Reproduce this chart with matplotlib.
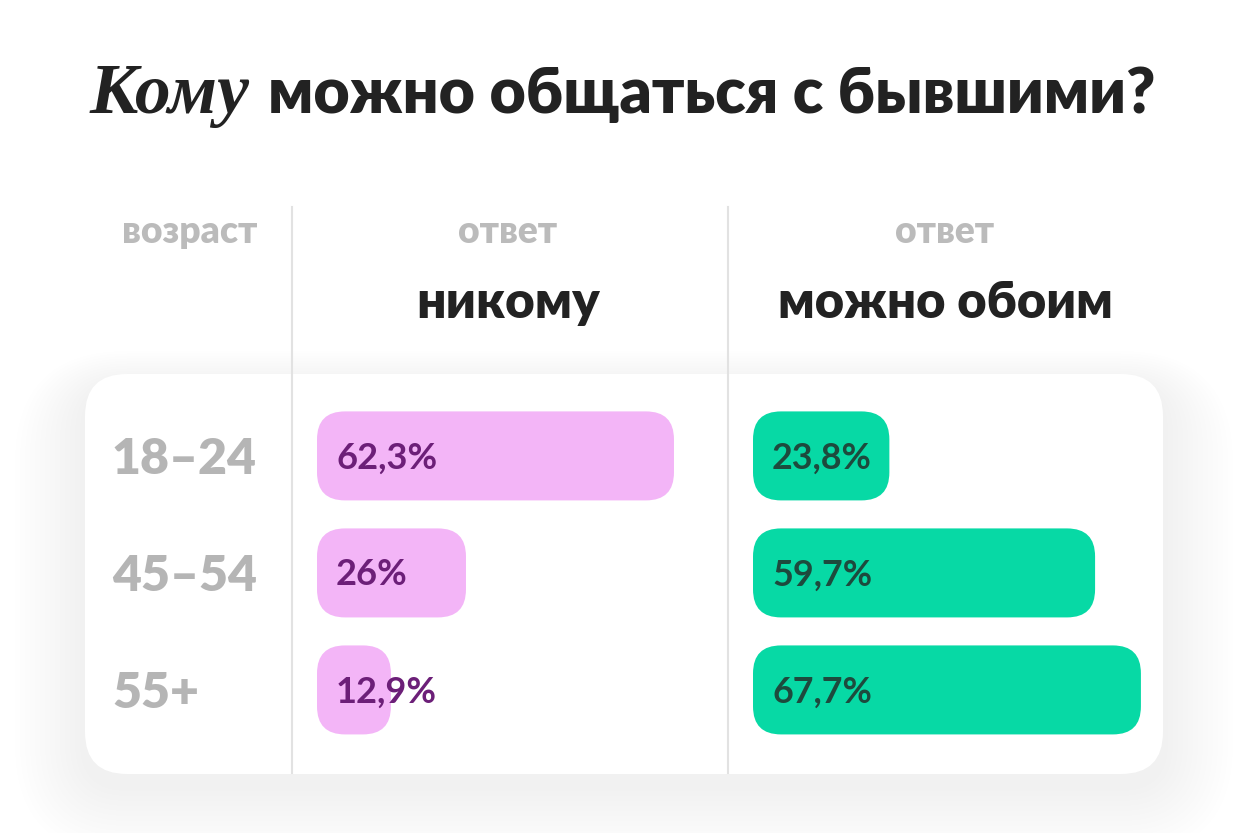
import matplotlib
matplotlib.use('Agg')
import matplotlib.pyplot as plt
from matplotlib.patches import FancyBboxPatch

plt.rcParams['font.family'] = ['Lato', 'DejaVu Sans']

# data
ages = ['18–24', '45–54', '55+']
nobody = [62.3, 26, 12.9]      # "никому"
both = [23.8, 59.7, 67.7]      # "можно обоим"
nobody_labels = ['62,3%', '26%', '12,9%']
both_labels = ['23,8%', '59,7%', '67,7%']

W, H = 1248, 833
fig = plt.figure(figsize=(W / 100, H / 100), dpi=100)
fig.patch.set_facecolor('white')
r = fig.canvas.get_renderer()


def fit(t, target):
    # scale a text so it spans target pixels
    bb = t.get_window_extent(r)
    t.set_fontsize(t.get_fontsize() * target / bb.width)


# background layer in pixel units
bg = fig.add_axes([0, 0, 1, 1])
bg.set_xlim(0, W)
bg.set_ylim(H, 0)
bg.axis('off')

# soft card shadow + card
for i in range(14):
    g = 70 - i * 5
    bg.add_patch(FancyBboxPatch((85 - g, 374 - g * 0.5 + 12), 1078 + 2 * g, 400 + g * 1.5,
                                boxstyle='round,pad=0,rounding_size=%d' % (42 + g),
                                fc='black', ec='none', alpha=0.0045))
bg.add_patch(FancyBboxPatch((85, 374), 1078, 400, boxstyle='round,pad=0,rounding_size=42',
                            fc='white', ec='none'))
for x in (292, 728):
    bg.plot([x, x], [207, 773], color='#e2e2e2', lw=1.5)

# title
t1 = fig.text(90 / W, 1 - 113 / H, 'Кому', family='Liberation Serif', style='italic',
              weight='bold', fontsize=44, color='#222222', va='baseline', ha='left')
fit(t1, 160)
t2 = fig.text(268 / W, 1 - 113 / H, 'можно общаться с бывшими?', weight='heavy',
              fontsize=40, color='#222222', va='baseline', ha='left')
fit(t2, 887)

# column headers
h = fig.text(190 / W, 1 - 243 / H, 'возраст', weight='heavy', fontsize=20,
             color='#bbbbbb', ha='center', va='baseline')
fit(h, 135)
for cx, name, wd in [(508, 'никому', 183), (945, 'можно обоим', 335)]:
    s = fig.text(cx / W, 1 - 243 / H, 'ответ', weight='heavy', fontsize=h.get_fontsize(),
                 color='#bbbbbb', ha='center', va='baseline')
    t = fig.text(cx / W, 1 - 318 / H, name, weight='heavy', fontsize=30,
                 color='#222222', ha='center', va='baseline')
    fit(t, wd)

# bar columns
px_per_pct = 5.73
row_px = 117
xmax = 70
axes = []
for left in (317, 753):
    ax = fig.add_axes([left / W, 1 - 773 / H, xmax * px_per_pct / W, 399 / H])
    ax.set_xlim(0, xmax)
    ax.set_ylim(2.71, -0.70)
    ax.axis('off')
    ax.patch.set_alpha(0)
    axes.append(ax)

aspect = px_per_pct / row_px
bar_h = 89 / row_px
rad = 28 / px_per_pct


def draw_bars(ax, vals, labels, fc, tc):
    size = None
    for i, (v, lab) in enumerate(zip(vals, labels)):
        ax.add_patch(FancyBboxPatch((0, i - bar_h / 2), v, bar_h,
                                    boxstyle='round,pad=0,rounding_size=%f' % min(rad, v / 2),
                                    mutation_aspect=aspect, fc=fc, ec='none', clip_on=False))
        t = ax.annotate(lab, xy=(19 / px_per_pct, i), xytext=(0, -9), textcoords='offset points',
                        weight='bold', fontsize=24, color=tc, va='baseline', ha='left',
                        annotation_clip=False)
        if size is None:
            fit(t, 101 if ax is axes[0] else 100)
            size = t.get_fontsize()
        t.set_fontsize(size)


draw_bars(axes[0], nobody, nobody_labels, '#f3b5f7', '#6c1f78')
draw_bars(axes[1], both, both_labels, '#07d9a5', '#1d4a3d')

# age labels
size = None
for i, a in reversed(list(enumerate(ages))):
    t = axes[0].annotate(a, xy=(112 / W, i), xycoords=('figure fraction', 'data'),
                         xytext=(0, -13), textcoords='offset points', weight='heavy',
                         fontsize=36, color='#b5b5b5', va='baseline', ha='left',
                         annotation_clip=False)
    if size is None:
        fit(t, 87)  # sized from "55+"
        size = t.get_fontsize()
    t.set_fontsize(size)

fig.savefig('out.png', dpi=100, facecolor='white')
